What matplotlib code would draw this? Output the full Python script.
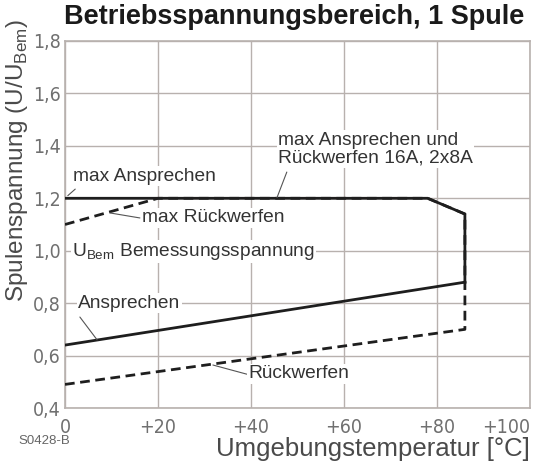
import matplotlib

matplotlib.use("Agg")
import matplotlib.pyplot as plt
from matplotlib import font_manager

# operating voltage range, one coil (U/U_Bem over ambient temperature)
temp_max_ans = [0, 78, 86, 86]
u_max_ans = [1.20, 1.20, 1.14, 0.88]
temp_max_rueck = [0, 20, 78, 86, 86]
u_max_rueck = [1.10, 1.20, 1.20, 1.14, 0.88]
temp_ans = [0, 86]
u_ans = [0.64, 0.88]
temp_rueck = [0, 86, 86]
u_rueck = [0.49, 0.70, 0.88]

x_ticks = [0, 20, 40, 60, 80, 100]
x_labels = ["0", "+20", "+40", "+60", "+80", "+100"]
y_ticks = [0.4, 0.6, 0.8, 1.0, 1.2, 1.4, 1.6, 1.8]
y_labels = ["0,4", "0,6", "0,8", "1,0", "1,2", "1,4", "1,6", "1,8"]

plt.rcParams["font.family"] = ["Liberation Sans", "DejaVu Sans"]
plt.rcParams["mathtext.fontset"] = "custom"
plt.rcParams["mathtext.rm"] = "Liberation Sans"

# the tick labels in the reference use a narrow face; take one if installed
names = {(f.name, f.stretch) for f in font_manager.fontManager.ttflist}
if any(n == "Liberation Sans Narrow" for n, _ in names):
    narrow, stretch, tick_size = "Liberation Sans Narrow", "normal", 15
elif ("DejaVu Sans", "condensed") in names or ("DejaVu Sans", 600) in names:
    narrow, stretch, tick_size = "DejaVu Sans", "condensed", 14
else:
    narrow, stretch, tick_size = "Liberation Sans", "normal", 14

GRID = "#b8b1ae"
TXT = "#333333"
TICK = "#707070"
LINE = "#1e1e1e"

fig = plt.figure(figsize=(5.34, 4.62), dpi=100)
ax = fig.add_axes([65 / 534, 1 - 408 / 462, 465 / 534, 367 / 462])

ax.plot(temp_ans, u_ans, color=LINE, lw=2.0, zorder=3)
ax.plot(temp_max_ans, u_max_ans, color=LINE, lw=2.0, zorder=3)
ax.plot(temp_rueck, u_rueck, color=LINE, lw=2.0, ls=(0, (3.5, 2)), zorder=3)
ax.plot(temp_max_rueck, u_max_rueck, color=LINE, lw=2.0, ls=(0, (3.5, 2)), zorder=3)

ax.set_xlim(0, 100)
ax.set_ylim(0.4, 1.8)
ax.set_xticks(x_ticks)
ax.set_xticklabels(x_labels)
ax.set_yticks(y_ticks)
ax.set_yticklabels(y_labels)
for lab in ax.get_xticklabels() + ax.get_yticklabels():
    lab.set_family(narrow)
    lab.set_stretch(stretch)
    lab.set_fontsize(tick_size)
    lab.set_color(TICK)
ax.get_xticklabels()[-1].set_horizontalalignment("right")
ax.tick_params(length=0, pad=3)
ax.tick_params(axis="x", pad=7)
ax.grid(True, color=GRID, lw=1.0)
ax.set_axisbelow(True)
for s in ax.spines.values():
    s.set_color(GRID)
    s.set_linewidth(1.2)

box = dict(facecolor="white", edgecolor="none", pad=1.0)
lead = dict(arrowstyle="-", color="#555555", lw=0.8, shrinkA=0, shrinkB=0)
kw = dict(fontsize=13.8, color=TXT, va="center", ha="left", zorder=4, bbox=box)

ax.text(1.7, 1.285, "max Ansprechen", **kw)
ax.annotate("", xy=(0.6, 1.21), xytext=(2.2, 1.235), arrowprops=lead)
ax.text(16.6, 1.125, "max Rückwerfen", **kw)
ax.annotate("", xy=(9.7, 1.144), xytext=(16.1, 1.125), arrowprops=lead)
ax.text(1.5, 0.997, r"U$_{\mathrm{Bem}}$ Bemessungsspannung", **kw)
ax.text(2.8, 0.80, "Ansprechen", **kw)
ax.annotate("", xy=(6.9, 0.66), xytext=(3.2, 0.747), arrowprops=lead)
ax.text(39.4, 0.53, "Rückwerfen", **kw)
ax.annotate("", xy=(31.8, 0.564), xytext=(39.1, 0.529), arrowprops=lead)
ax.text(45.8, 1.388, "max Ansprechen und\nRückwerfen 16A, 2x8A", linespacing=1.05, **kw)
ax.annotate("", xy=(45.6, 1.203), xytext=(47.7, 1.30), arrowprops=lead)

fig.text(294 / 534, 1 - 17 / 462, "Betriebsspannungsbereich, 1 Spule",
         ha="center", va="center", fontsize=19.5, fontweight="bold", color="#1a1a1a")
fig.text(17 / 534, 1 - 161 / 462, r"Spulenspannung (U/U$_{\mathrm{Bem}}$)",
         rotation=90, ha="center", va="center", fontsize=17.5, color="#4a4a4a")
fig.text(530 / 534, 1 - 449 / 462, "Umgebungstemperatur [°C]",
         ha="right", va="center", fontsize=18.5, color="#4a4a4a")
fig.text(18 / 534, 1 - 441 / 462, "S0428-B", ha="left", va="center",
         fontsize=9.5, color="#666666")

fig.savefig("out.png", dpi=100, facecolor="white")
